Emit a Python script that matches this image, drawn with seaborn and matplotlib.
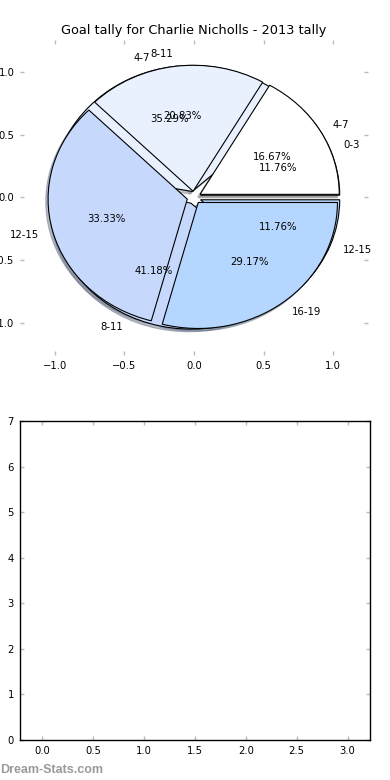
import matplotlib
matplotlib.use("Agg")
import matplotlib.pyplot as plt
import seaborn as sns

# ---- data ----
title = "Goal tally for Charlie Nicholls - 2013 tally"
labels_front = ["4-7", "8-11", "12-15", "16-19"]
goals_front = [4, 5, 8, 7]
labels_back = ["0-3", "4-7", "8-11", "12-15"]
goals_back = [2, 6, 7, 2]
wedge_colors = ["#ffffff", "#e9f1fe", "#c6d9fd", "#b5d6fe"]
pie_ticks = [-1.0, -0.5, 0.0, 0.5, 1.0]
bottom_xticks = [0.0, 0.5, 1.0, 1.5, 2.0, 2.5, 3.0]
bottom_yticks = [0, 1, 2, 3, 4, 5, 6, 7]
watermark = "Dream-Stats.com"

sns.set_style("white")
plt.rcParams["font.family"] = ["DejaVu Sans"]
plt.rcParams["text.color"] = "black"

fig = plt.figure(figsize=(3.9, 7.8), dpi=100)
ax1 = fig.add_axes([0.0513, 0.5449, 0.8923, 0.4038])
ax2 = fig.add_axes([0.05, 0.0513, 0.8987, 0.409])

explode = [0.05] * 4
tp = dict(fontsize=7.3, color="black")
for vals, labs in ((goals_back, labels_back), (goals_front, labels_front)):
    wedges, texts, autotexts = ax1.pie(
        vals, labels=labs, colors=wedge_colors, explode=explode,
        autopct="%1.2f%%", shadow=dict(ox=-0.012, oy=-0.015, shade=0.45),
        startangle=0, textprops=tp,
        wedgeprops=dict(edgecolor="black", linewidth=0.8),
    )

ax1.set_aspect("auto")
ax1.set_xlim(-1.25, 1.25)
ax1.set_ylim(-1.25, 1.25)
ax1.set_xticks(pie_ticks)
ax1.set_yticks(pie_ticks)
ax1.set_frame_on(False)
ax1.set_title(title, fontsize=9.3, pad=4, color="black")

for ax in (ax1, ax2):
    ax.tick_params(axis="both", which="both", direction="in", length=3, width=1,
                   color="#bbbbbb", labelsize=7.2, labelcolor="black",
                   top=True, right=True, bottom=True, left=True, pad=4)

ax2.set_xlim(-0.22, 3.22)
ax2.set_ylim(0, 7)
ax2.set_xticks(bottom_xticks)
ax2.set_yticks(bottom_yticks)
for s in ax2.spines.values():
    s.set_visible(True)
    s.set_color("black")
    s.set_linewidth(1)

fig.text(0.0, 0.009, watermark, fontsize=9, color="#9a9a9a",
         family=["Liberation Sans", "DejaVu Sans"], weight="bold", ha="left", va="baseline")

fig.savefig("out.png", dpi=100)
